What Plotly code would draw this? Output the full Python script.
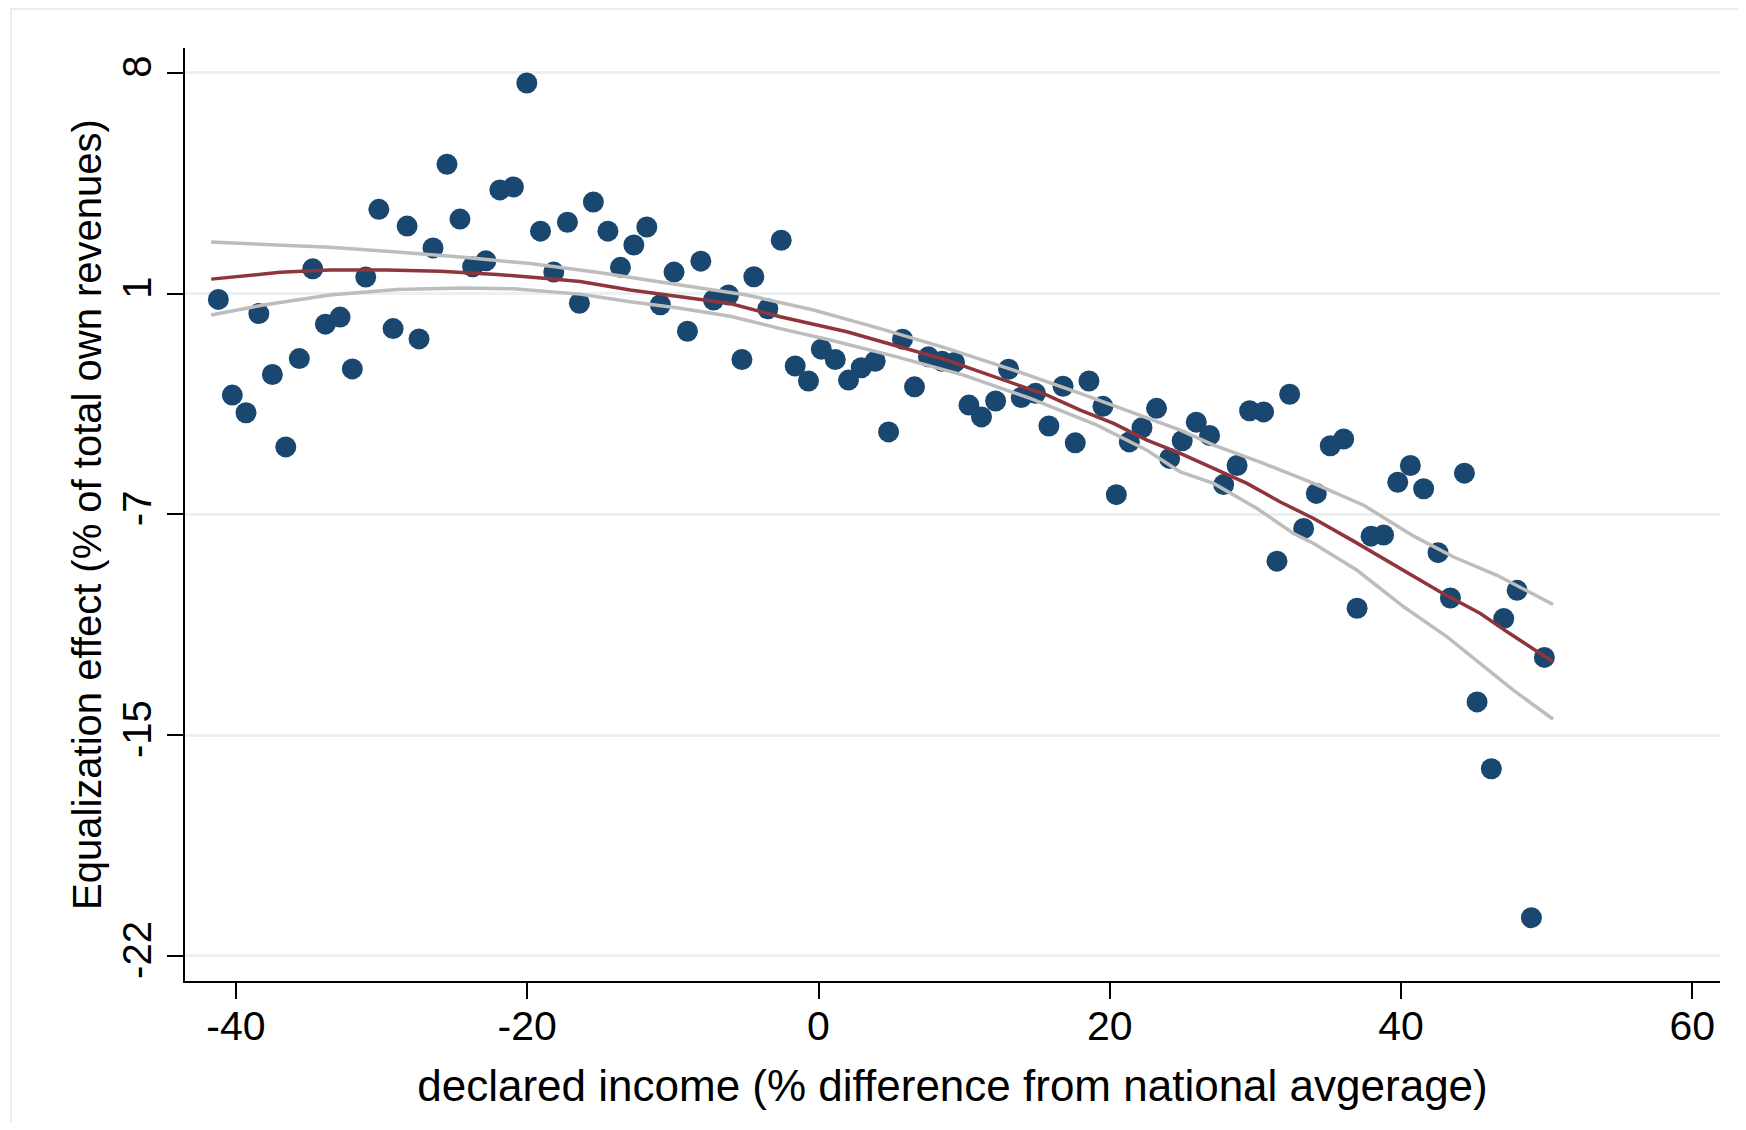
import plotly.graph_objects as go

# ---- data ----
x_vals = [-41.21, -40.25, -39.31, -38.43, -37.50, -36.58, -35.65, -34.73, -33.86, -32.85,
          -32.01, -31.09, -30.19, -29.21, -28.25, -27.43, -26.47, -25.51, -24.62, -23.75,
          -22.84, -21.88, -20.95, -20.03, -19.09, -18.18, -17.24, -16.42, -15.46, -14.46,
          -13.60, -12.68, -11.79, -10.86, -9.92, -9.00, -8.08, -7.21, -6.18, -5.26,
          -4.44, -3.48, -2.56, -1.60, -0.69, 0.19, 1.15, 2.06, 2.93, 3.89,
          4.81, 5.77, 6.59, 7.55, 8.48, 9.34, 10.33, 11.19, 12.16, 13.05,
          13.92, 14.90, 15.82, 16.79, 17.63, 18.57, 19.53, 20.45, 21.34, 22.21,
          23.21, 24.11, 24.97, 25.94, 26.85, 27.82, 28.74, 29.60, 30.56, 31.48,
          32.35, 33.31, 34.18, 35.14, 36.06, 36.98, 37.94, 38.80, 39.77, 40.64,
          41.55, 42.54, 43.39, 44.35, 45.22, 46.20, 47.05, 47.97, 48.95, 49.84]
y_vals = [0.30, -2.95, -3.55, -0.18, -2.25, -4.71, -1.71, 1.34, -0.54, -0.30,
          -2.06, 1.06, 3.36, -0.69, 2.79, -1.04, 2.05, 4.89, 3.03, 1.41,
          1.61, 4.02, 4.12, 7.65, 2.62, 1.23, 2.92, 0.17, 3.61, 2.62,
          1.39, 2.15, 2.76, 0.12, 1.23, -0.78, 1.60, 0.28, 0.45, -1.74,
          1.07, -0.02, 2.31, -1.96, -2.47, -1.39, -1.74, -2.44, -2.02, -1.80,
          -4.20, -1.05, -2.67, -1.65, -1.80, -1.84, -3.29, -3.69, -3.15, -2.07,
          -3.03, -2.89, -4.00, -2.65, -4.57, -2.47, -3.33, -6.33, -4.54, -4.06,
          -3.40, -5.10, -4.50, -3.87, -4.32, -5.99, -5.34, -3.48, -3.52, -8.59,
          -2.92, -7.48, -6.29, -4.67, -4.44, -10.19, -7.74, -7.70, -5.91, -5.34,
          -6.13, -8.30, -9.84, -5.60, -13.37, -15.64, -10.54, -9.58, -20.70, -11.86]

fit_x = [-41.7, -36.97, -33.54, -29.64, -25.98, -22.09, -18.65, -16.37, -12.93, -9.50,
         -6.06, -2.63, -0.80, 1.95, 5.38, 8.82, 10.42, 13.39, 15.69, 17.97,
         20.26, 22.55, 24.84, 27.13, 29.42, 31.71, 34.0, 36.74, 38.58, 40.41,
         42.70, 45.45, 47.28, 50.44]
fit_y = [0.99, 1.22, 1.30, 1.30, 1.26, 1.15, 1.01, 0.91, 0.62, 0.40,
         0.16, -0.29, -0.49, -0.80, -1.28, -1.76, -2.04, -2.55, -2.95, -3.46,
         -3.91, -4.48, -4.93, -5.44, -5.95, -6.58, -7.14, -7.91, -8.45, -8.96,
         -9.64, -10.37, -10.99, -12.01]

ci_hi_x = [-41.71, -38.12, -33.54, -28.96, -24.38, -19.80, -15.22, -9.50, -4.92, -0.34,
           4.24, 8.82, 13.39, 17.97, 22.55, 24.84, 27.13, 30.56, 34.0, 37.43,
           40.87, 43.61, 46.59, 50.44]
ci_hi_y = [2.25, 2.18, 2.07, 1.91, 1.73, 1.52, 1.22, 0.79, 0.45, -0.06,
           -0.69, -1.36, -2.10, -2.89, -3.74, -4.14, -4.65, -5.27, -5.95, -6.69,
           -7.74, -8.45, -9.07, -10.06]

ci_lo_x = [-41.71, -38.12, -33.54, -28.96, -24.38, -20.95, -16.37, -12.93, -9.50, -6.06,
           -2.63, 0.80, 5.38, 9.96, 14.54, 19.12, 22.55, 24.84, 27.13, 30.11,
           32.62, 34.0, 36.98, 40.18, 43.16, 46.36, 47.73, 50.44]
ci_lo_y = [-0.23, 0.11, 0.45, 0.64, 0.69, 0.66, 0.48, 0.22, 0.0, -0.27,
           -0.69, -1.08, -1.65, -2.27, -3.06, -3.97, -4.82, -5.56, -5.95, -6.80,
           -7.65, -7.99, -8.90, -10.14, -11.16, -12.41, -12.98, -13.96]

x_tickvals = [-40, -20, 0, 20, 40, 60]
x_ticktext = ["-40", "-20", "0", "20", "40", "60"]
y_tickvals = [8, 0.5, -7, -14.5, -22]
y_ticktext = ["8", "1", "-7", "-15", "-22"]

x_title = "declared income (% difference from national avgerage)"
y_title = "Equalization effect (% of total own revenues)"

# ---- figure ----
FONT = "Liberation Sans, Arial, sans-serif"
W, H = 1730, 1114
ML, MR, MT, MB = 177, 18, 40, 141
PW, PH = W - ML - MR, H - MT - MB

fig = go.Figure()
fig.add_trace(go.Scatter(x=x_vals, y=y_vals, mode="markers",
                         marker=dict(color="#1a476f", size=21, line=dict(width=0)),
                         name="bins", showlegend=False))
fig.add_trace(go.Scatter(x=ci_hi_x, y=ci_hi_y, mode="lines",
                         line=dict(color="#bdbdbd", width=3.5), showlegend=False))
fig.add_trace(go.Scatter(x=ci_lo_x, y=ci_lo_y, mode="lines",
                         line=dict(color="#bdbdbd", width=3.5), showlegend=False))
fig.add_trace(go.Scatter(x=fit_x, y=fit_y, mode="lines",
                         line=dict(color="#90353b", width=3.5), showlegend=False))

fig.update_layout(
    width=W, height=H,
    margin=dict(l=ML, r=MR, t=MT, b=MB),
    paper_bgcolor="white", plot_bgcolor="white",
    font=dict(family=FONT, size=40, color="black"),
    showlegend=False,
    xaxis=dict(range=[-43.5, 61.9], tickvals=x_tickvals, ticktext=x_ticktext,
               ticks="outside", ticklen=16, tickwidth=2, tickcolor="black",
               showline=True, linecolor="black", linewidth=2,
               showgrid=False, zeroline=False, ticklabelstandoff=-8,
               tickfont=dict(size=41),
               title=dict(text=x_title, font=dict(size=44), standoff=22)),
    yaxis=dict(range=[-22.85, 8.84], tickvals=y_tickvals, ticktext=y_ticktext,
               ticks="outside", ticklen=16, tickwidth=2, tickcolor="black",
               showline=True, linecolor="black", linewidth=2,
               showgrid=True, gridcolor="#e9f1f3", gridwidth=3, zeroline=False,
               tickangle=-90, tickfont=dict(size=40),
               title=dict(text=y_title, font=dict(size=40), standoff=1)),
    shapes=[dict(type="rect", xref="paper", yref="paper",
                 x0=(3 - ML) / PW, x1=1.3, y0=-0.4, y1=1 + (MT - 1) / PH,
                 line=dict(color="#e6eef1", width=2), fillcolor="rgba(0,0,0,0)",
                 layer="below")],
)

fig.write_html("out.html")
